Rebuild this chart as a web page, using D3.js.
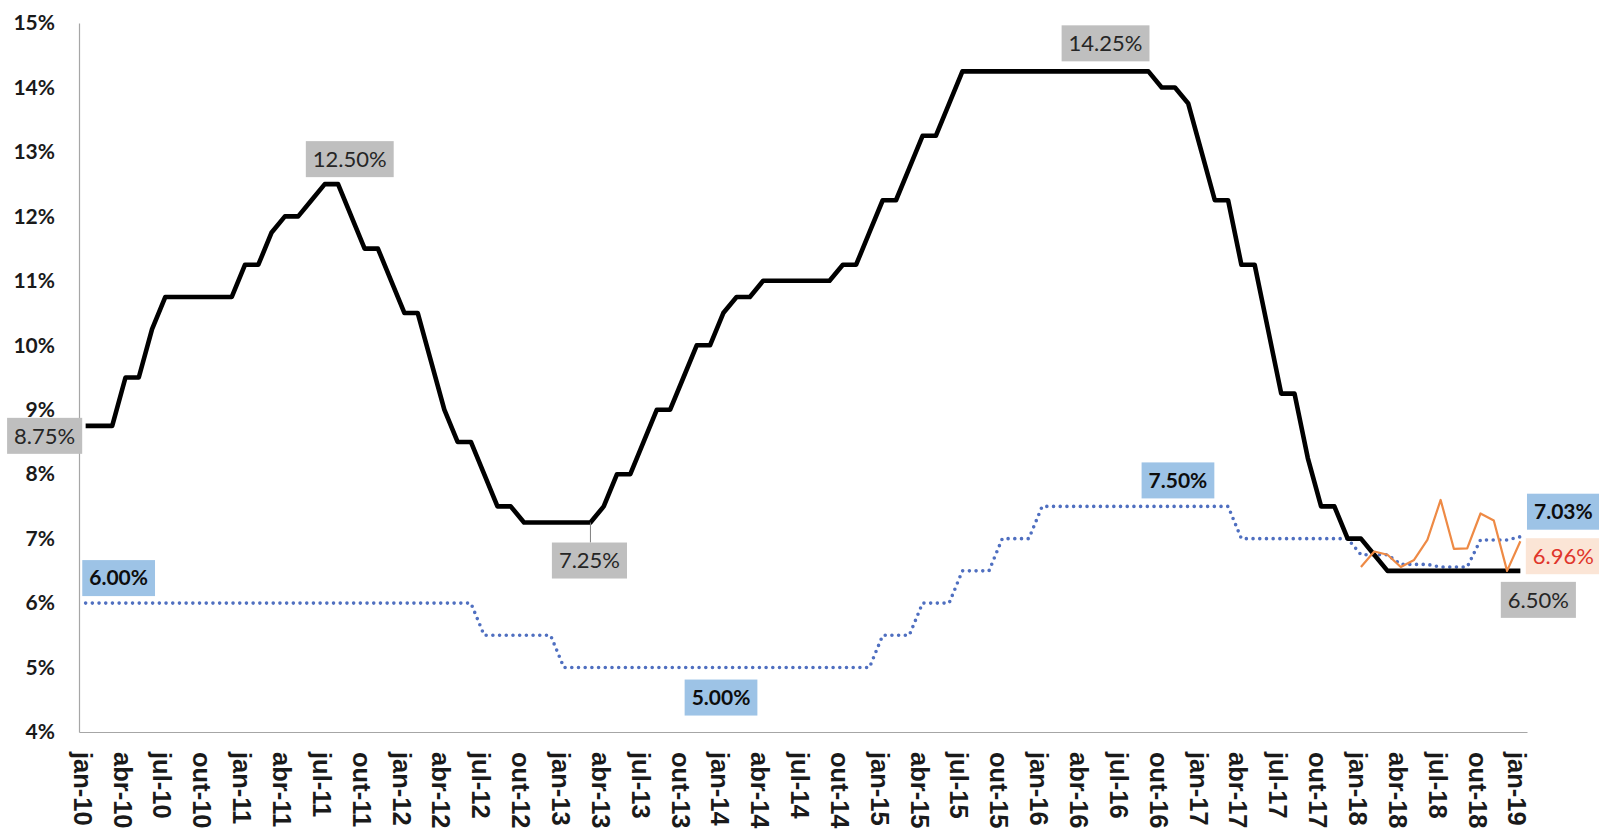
<!DOCTYPE html>
<html>
<head>
<meta charset="utf-8">
<script src="https://cdn.jsdelivr.net/npm/d3@7"></script>
<style>
  body { margin: 0; background: #fff; }
  svg { display: block; }
</style>
</head>
<body>
<svg id="chart"></svg>
<script>
const monthNames = ["jan", "fev", "mar", "abr", "mai", "jun", "jul", "ago", "set", "out", "nov", "dez"];
const years = ["10", "11", "12", "13", "14", "15", "16", "17", "18", "19"];

// Selic meta, fim de mes (jan-10 .. jan-19)
const selic = [
  8.75, 8.75, 8.75, 9.5, 9.5, 10.25, 10.75, 10.75, 10.75, 10.75, 10.75, 10.75,
  11.25, 11.25, 11.75, 12, 12, 12.25, 12.5, 12.5, 12, 11.5, 11.5, 11,
  10.5, 10.5, 9.75, 9, 8.5, 8.5, 8, 7.5, 7.5, 7.25, 7.25, 7.25,
  7.25, 7.25, 7.25, 7.5, 8, 8, 8.5, 9, 9, 9.5, 10, 10,
  10.5, 10.75, 10.75, 11, 11, 11, 11, 11, 11, 11.25, 11.25, 11.75,
  12.25, 12.25, 12.75, 13.25, 13.25, 13.75, 14.25, 14.25, 14.25, 14.25, 14.25, 14.25,
  14.25, 14.25, 14.25, 14.25, 14.25, 14.25, 14.25, 14.25, 14.25, 14, 14, 13.75,
  13, 12.25, 12.25, 11.25, 11.25, 10.25, 9.25, 9.25, 8.25, 7.5, 7.5, 7,
  7, 6.75, 6.5, 6.5, 6.5, 6.5, 6.5, 6.5, 6.5, 6.5, 6.5, 6.5,
  6.5
];

// TJLP (jan-10 .. jan-19)
const tjlp = [
  6, 6, 6, 6, 6, 6, 6, 6, 6, 6, 6, 6,
  6, 6, 6, 6, 6, 6, 6, 6, 6, 6, 6, 6,
  6, 6, 6, 6, 6, 6, 5.5, 5.5, 5.5, 5.5, 5.5, 5.5,
  5, 5, 5, 5, 5, 5, 5, 5, 5, 5, 5, 5,
  5, 5, 5, 5, 5, 5, 5, 5, 5, 5, 5, 5,
  5.5, 5.5, 5.5, 6, 6, 6, 6.5, 6.5, 6.5, 7, 7, 7,
  7.5, 7.5, 7.5, 7.5, 7.5, 7.5, 7.5, 7.5, 7.5, 7.5, 7.5, 7.5,
  7.5, 7.5, 7.5, 7, 7, 7, 7, 7, 7, 7, 7, 7,
  6.75, 6.75, 6.75, 6.6, 6.6, 6.6, 6.56, 6.56, 6.56, 6.98, 6.98, 6.98,
  7.03
];

// TLP (jan-18 .. jan-19)
const tlpStart = 96;
const tlp = [6.56, 6.80, 6.75, 6.56, 6.67, 6.98, 7.60, 6.84, 6.85, 7.39, 7.28, 6.50, 6.96];

const yTicks = [4, 5, 6, 7, 8, 9, 10, 11, 12, 13, 14, 15];

const months = [];
years.forEach(y => monthNames.forEach(m => months.push(m + "-" + y)));
months.length = selic.length;

// annotations: series, month index, value, text
const notes = [
  { s: "selic", i: 0, v: 8.75, text: "8.75%", dx: -41, dy: 10 },
  { s: "selic", i: 18, v: 12.5, text: "12.50%", dx: 25, dy: -25 },
  { s: "selic", i: 38, v: 7.25, text: "7.25%", dx: -1, dy: 38, leader: true },
  { s: "selic", i: 77, v: 14.25, text: "14.25%", dx: -3, dy: -28 },
  { s: "selic", i: 108, v: 6.5, text: "6.50%", dx: 18, dy: 29 },
  { s: "tjlp", i: 0, v: 6, text: "6.00%", dx: 33, dy: -25 },
  { s: "tjlp", i: 47, v: 5, text: "5.00%", dx: 11, dy: 30 },
  { s: "tjlp", i: 82, v: 7.5, text: "7.50%", dx: 3, dy: -26 },
  { s: "tjlp", i: 108, v: 7.03, text: "7.03%", dx: 43, dy: -25 },
  { s: "tlp", i: 108, v: 6.96, text: "6.96%", dx: 43, dy: 15 }
];

const noteStyle = {
  selic: { fill: "#bfbfbf", color: "#262626", weight: 400, size: 22 },
  tjlp: { fill: "#9dc3e6", color: "#0d0d0d", weight: 700, size: 21 },
  tlp: { fill: "#fbe5d6", color: "#e0352b", weight: 400, size: 22 }
};

const width = 1599, height = 831;
const plot = { left: 79, right: 1527, top: 23, bottom: 732 };

const svg = d3.select("#chart")
  .attr("width", width)
  .attr("height", height);

svg.append("rect").attr("width", width).attr("height", height).attr("fill", "#fff");

const x = d3.scaleBand().domain(months).range([plot.left, plot.right]);
const y = d3.scaleLinear().domain([4, 15]).range([plot.bottom, plot.top]);
const cx = i => x(months[i]) + x.bandwidth() / 2;

// y axis
const yAxis = svg.append("g")
  .attr("transform", "translate(" + plot.left + ",0)")
  .call(d3.axisLeft(y).tickValues(yTicks).tickSize(0).tickPadding(24).tickFormat(d => d + "%"));
yAxis.select(".domain").attr("stroke", "#a6a6a6").attr("stroke-width", 1.2);
yAxis.selectAll("text")
  .attr("font-family", "Lato, 'Open Sans', sans-serif")
  .attr("font-weight", 700)
  .attr("font-size", 21)
  .attr("fill", "#1a1a1a");

// x axis
const xAxis = svg.append("g")
  .attr("transform", "translate(0," + plot.bottom + ")")
  .call(d3.axisBottom(x).tickValues(months.filter((m, i) => i % 3 === 0)).tickSize(0).tickSizeOuter(0));
xAxis.select(".domain").attr("stroke", "#a6a6a6").attr("stroke-width", 1.2);
xAxis.selectAll(".tick text")
  .attr("font-family", "'Liberation Sans', Arial, sans-serif")
  .attr("font-weight", 700)
  .attr("font-size", 25.5)
  .attr("fill", "#1a1a1a")
  .attr("text-anchor", "start")
  .attr("transform", "translate(-3,20) rotate(90)")
  .attr("x", 0)
  .attr("y", 0)
  .attr("dy", "0.35em");

// series
const line = d3.line()
  .x(d => cx(d.i))
  .y(d => y(d.v));

svg.append("path")
  .datum(tjlp.map((v, i) => ({ i, v })))
  .attr("d", line)
  .attr("fill", "none")
  .attr("stroke", "#4f6fc0")
  .attr("stroke-width", 3.6)
  .attr("stroke-linecap", "round")
  .attr("stroke-dasharray", "0 6.7");

svg.append("path")
  .datum(selic.map((v, i) => ({ i, v })))
  .attr("d", line)
  .attr("fill", "none")
  .attr("stroke", "#000")
  .attr("stroke-width", 4.6)
  .attr("stroke-linejoin", "round");

svg.append("path")
  .datum(tlp.map((v, k) => ({ i: tlpStart + k, v })))
  .attr("d", line)
  .attr("fill", "none")
  .attr("stroke", "#ee8a45")
  .attr("stroke-width", 2.2)
  .attr("stroke-linejoin", "round");

// annotations
notes.forEach(n => {
  const st = noteStyle[n.s];
  const px = cx(n.i), py = y(n.v);
  const bx = px + n.dx, by = py + n.dy;
  const g = svg.append("g");
  const box = g.append("rect").attr("fill", st.fill);
  const t = g.append("text")
    .attr("x", bx)
    .attr("y", by)
    .attr("dy", "0.35em")
    .attr("text-anchor", "middle")
    .attr("font-family", "Lato, 'Open Sans', sans-serif")
    .attr("font-weight", st.weight)
    .attr("font-size", st.size)
    .attr("fill", st.color)
    .text(n.text);
  const w = t.node().getComputedTextLength() + 14;
  const h = 36;
  box.attr("x", bx - w / 2).attr("y", by - h / 2).attr("width", w).attr("height", h);
  if (n.leader) {
    g.insert("line", "rect")
      .attr("x1", px).attr("y1", py)
      .attr("x2", px).attr("y2", by - h / 2)
      .attr("stroke", "#7f7f7f")
      .attr("stroke-width", 1);
  }
});
</script>
</body>
</html>
